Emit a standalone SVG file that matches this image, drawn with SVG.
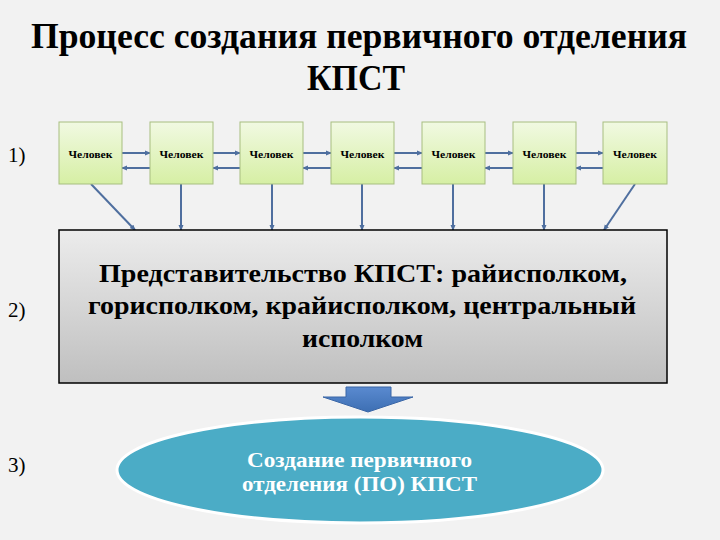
<svg xmlns="http://www.w3.org/2000/svg" width="720" height="540" viewBox="0 0 720 540">
<defs>
<linearGradient id="gBox" x1="0" y1="0" x2="0" y2="1"><stop offset="0" stop-color="#f1f9e2"/><stop offset="1" stop-color="#d6efa4"/></linearGradient>
<linearGradient id="gRep" x1="0" y1="0" x2="0" y2="1"><stop offset="0" stop-color="#ececec"/><stop offset="1" stop-color="#bfbfbf"/></linearGradient>
<linearGradient id="gArr" x1="0" y1="0" x2="0" y2="1"><stop offset="0" stop-color="#5a8ad0"/><stop offset="1" stop-color="#3d6fb3"/></linearGradient>
<marker id="ah" markerWidth="6" markerHeight="6" refX="5" refY="3" orient="auto" markerUnits="userSpaceOnUse"><path d="M0,0.5 L6,3 L0,5.5 Z" fill="#4f6f9f"/></marker>
<style>
.box{fill:url(#gBox);stroke:#a7be80;stroke-width:1}
.con{stroke:#4f6f9f;stroke-width:2;fill:none;marker-end:url(#ah)}
</style>
</defs>
<rect width="720" height="540" fill="#f2f2f2"/>
<g font-family="Liberation Serif, Times New Roman, DejaVu Serif, serif">
<text font-size="35" font-weight="bold" text-anchor="middle" x="359" y="48" textLength="656" lengthAdjust="spacingAndGlyphs">Процесс создания первичного отделения</text>
<text font-size="35" font-weight="bold" text-anchor="middle" x="356" y="90" textLength="98" lengthAdjust="spacingAndGlyphs">КПСТ</text>
<text font-size="21" x="8" y="162">1)</text>
<text font-size="21" x="8" y="317">2)</text>
<text font-size="21" x="8" y="472">3)</text>
</g>
<g id="connectors">
<line class="con" x1="122" y1="153" x2="150" y2="153"/>
<line class="con" x1="150" y1="168" x2="122" y2="168"/>
<line class="con" x1="213" y1="153" x2="240" y2="153"/>
<line class="con" x1="240" y1="168" x2="213" y2="168"/>
<line class="con" x1="303" y1="153" x2="331" y2="153"/>
<line class="con" x1="331" y1="168" x2="303" y2="168"/>
<line class="con" x1="394" y1="153" x2="422" y2="153"/>
<line class="con" x1="422" y1="168" x2="394" y2="168"/>
<line class="con" x1="485" y1="153" x2="513" y2="153"/>
<line class="con" x1="513" y1="168" x2="485" y2="168"/>
<line class="con" x1="576" y1="153" x2="603" y2="153"/>
<line class="con" x1="603" y1="168" x2="576" y2="168"/>
<line class="con" x1="91" y1="184" x2="135" y2="230"/>
<line class="con" x1="181" y1="184" x2="181" y2="230"/>
<line class="con" x1="272" y1="184" x2="272" y2="230"/>
<line class="con" x1="362" y1="184" x2="362" y2="230"/>
<line class="con" x1="453" y1="184" x2="453" y2="230"/>
<line class="con" x1="544" y1="184" x2="544" y2="230"/>
<line class="con" x1="635" y1="184" x2="604" y2="230"/>
<path d="M346,387 H391 V397 H413 L368,412 L323,397 H346 Z" fill="url(#gArr)" stroke="#3a66a6" stroke-width="1"/>
</g>
<g font-family="Liberation Serif, Times New Roman, DejaVu Serif, serif" font-weight="bold" font-size="10.5" text-anchor="middle">
<g id="p1"><rect class="box" x="59" y="122" width="63" height="62"/><text x="90.5" y="158" textLength="44" lengthAdjust="spacingAndGlyphs">Человек</text></g>
<g id="p2"><rect class="box" x="150" y="122" width="63" height="62"/><text x="181.5" y="158" textLength="44" lengthAdjust="spacingAndGlyphs">Человек</text></g>
<g id="p3"><rect class="box" x="240" y="122" width="63" height="62"/><text x="271.5" y="158" textLength="44" lengthAdjust="spacingAndGlyphs">Человек</text></g>
<g id="p4"><rect class="box" x="331" y="122" width="63" height="62"/><text x="362.5" y="158" textLength="44" lengthAdjust="spacingAndGlyphs">Человек</text></g>
<g id="p5"><rect class="box" x="422" y="122" width="63" height="62"/><text x="453.5" y="158" textLength="44" lengthAdjust="spacingAndGlyphs">Человек</text></g>
<g id="p6"><rect class="box" x="513" y="122" width="63" height="62"/><text x="544.5" y="158" textLength="44" lengthAdjust="spacingAndGlyphs">Человек</text></g>
<g id="p7"><rect class="box" x="603" y="122" width="64" height="62"/><text x="635" y="158" textLength="44" lengthAdjust="spacingAndGlyphs">Человек</text></g>
</g>
<g id="rep" font-family="Liberation Serif, Times New Roman, DejaVu Serif, serif" font-weight="bold" font-size="26" text-anchor="middle">
<rect x="59" y="230" width="608" height="153" fill="url(#gRep)" stroke="#000" stroke-width="1.5"/>
<text x="363" y="282" textLength="528" lengthAdjust="spacingAndGlyphs">Представительство КПСТ: райисполком,</text>
<text x="362" y="314" textLength="548" lengthAdjust="spacingAndGlyphs">горисполком, крайисполком, центральный</text>
<text x="362.5" y="347" textLength="121" lengthAdjust="spacingAndGlyphs">исполком</text>
</g>
<g id="po" font-family="Liberation Serif, Times New Roman, DejaVu Serif, serif" font-weight="bold" font-size="21" text-anchor="middle">
<ellipse cx="360" cy="470" rx="243" ry="53" fill="#4bacc6" stroke="#ffffff" stroke-width="3"/>
<text fill="#fff" x="359.5" y="467" textLength="225" lengthAdjust="spacingAndGlyphs">Создание первичного</text>
<text fill="#fff" x="359.5" y="491" textLength="235" lengthAdjust="spacingAndGlyphs">отделения (ПО) КПСТ</text>
</g>
</svg>
